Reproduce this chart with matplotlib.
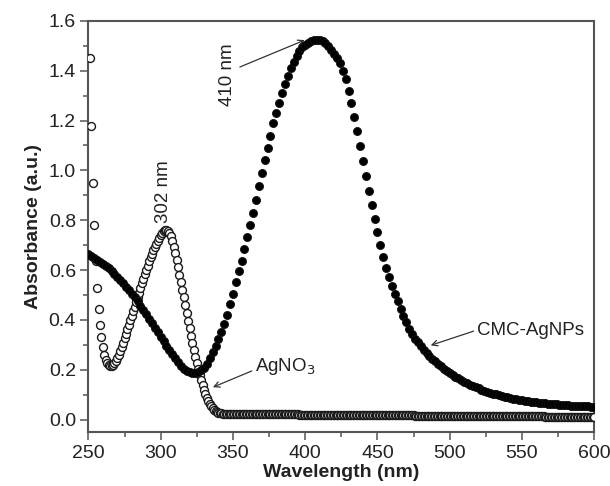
import numpy as np
import matplotlib
matplotlib.use("Agg")
import matplotlib.pyplot as plt
from matplotlib.ticker import MultipleLocator

# ---- data ----
# CMC-AgNPs, 2 nm steps from 250 to 600 nm
wl_cmc = np.arange(250, 601, 2)
abs_cmc = [
    0.665, 0.658, 0.650, 0.642, 0.634, 0.626, 0.617, 0.607, 0.597, 0.586,
    0.574, 0.561, 0.548, 0.534, 0.520, 0.505, 0.490, 0.474, 0.457, 0.440,
    0.423, 0.405, 0.387, 0.369, 0.351, 0.333, 0.315, 0.297, 0.279, 0.262,
    0.246, 0.231, 0.217, 0.205, 0.196, 0.190, 0.187, 0.188, 0.192, 0.198,
    0.207, 0.225, 0.248, 0.272, 0.296, 0.322, 0.350, 0.382, 0.420, 0.462,
    0.506, 0.552, 0.597, 0.638, 0.684, 0.731, 0.780, 0.831, 0.883, 0.937,
    0.990, 1.040, 1.090, 1.140, 1.190, 1.230, 1.270, 1.310, 1.345, 1.380,
    1.410, 1.435, 1.460, 1.480, 1.495, 1.505, 1.513, 1.518, 1.522, 1.524,
    1.524, 1.520, 1.513, 1.500, 1.485, 1.468, 1.452, 1.430, 1.400, 1.365,
    1.320, 1.270, 1.215, 1.157, 1.097, 1.037, 0.977, 0.917, 0.860, 0.805,
    0.752, 0.700, 0.652, 0.610, 0.572, 0.538, 0.505, 0.475, 0.445, 0.415,
    0.390, 0.365, 0.345, 0.325, 0.310, 0.295, 0.280, 0.268, 0.256, 0.245,
    0.234, 0.224, 0.214, 0.205, 0.196, 0.188, 0.180, 0.172, 0.165, 0.158,
    0.152, 0.146, 0.140, 0.135, 0.130, 0.125, 0.120, 0.116, 0.112, 0.108,
    0.104, 0.101, 0.098, 0.095, 0.092, 0.089, 0.087, 0.084, 0.082, 0.080,
    0.078, 0.076, 0.074, 0.072, 0.071, 0.069, 0.068, 0.066, 0.065, 0.064,
    0.063, 0.062, 0.061, 0.060, 0.059, 0.058, 0.057, 0.056, 0.056, 0.055,
    0.054, 0.054, 0.053, 0.053, 0.052, 0.052,
]

# AgNO3: 1 nm steps from 251 to 600 nm
wl_ag = np.arange(251, 601, 1)
abs_ag = [
    # 251 .. 345
    1.450, 1.180, 0.950, 0.780, 0.635, 0.530, 0.445, 0.380, 0.330, 0.290,
    0.260, 0.240, 0.226, 0.218, 0.214, 0.215, 0.219, 0.226, 0.235, 0.246,
    0.260, 0.275, 0.291, 0.308, 0.326, 0.344, 0.362, 0.380, 0.398, 0.416,
    0.434, 0.452, 0.471, 0.490, 0.509, 0.528, 0.547, 0.565, 0.583, 0.601,
    0.618, 0.635, 0.651, 0.666, 0.680, 0.693, 0.706, 0.718, 0.729, 0.739,
    0.748, 0.755, 0.760, 0.762, 0.758, 0.750, 0.735, 0.715, 0.692, 0.667,
    0.640, 0.612, 0.582, 0.552, 0.521, 0.490, 0.459, 0.428, 0.397, 0.367,
    0.337, 0.308, 0.280, 0.253, 0.227, 0.203, 0.180, 0.158, 0.138, 0.120,
    0.103, 0.088, 0.075, 0.063, 0.053, 0.045, 0.039, 0.034, 0.031, 0.028,
    0.026, 0.025, 0.024, 0.024, 0.023,
    # 346 .. 600
    0.023, 0.023, 0.023, 0.023, 0.023, 0.023, 0.023, 0.023, 0.023, 0.023,
    0.022, 0.022, 0.022, 0.022, 0.022, 0.022, 0.022, 0.022, 0.022, 0.022,
    0.022, 0.022, 0.022, 0.022, 0.022, 0.022, 0.022, 0.022, 0.022, 0.022,
    0.021, 0.021, 0.021, 0.021, 0.021, 0.021, 0.021, 0.022, 0.023, 0.022,
    0.021, 0.021, 0.021, 0.021, 0.021, 0.021, 0.021, 0.021, 0.021, 0.021,
    0.020, 0.020, 0.020, 0.020, 0.020, 0.020, 0.020, 0.020, 0.020, 0.020,
    0.020, 0.020, 0.020, 0.020, 0.020, 0.020, 0.020, 0.020, 0.020, 0.020,
    0.019, 0.019, 0.019, 0.019, 0.019, 0.019, 0.019, 0.019, 0.019, 0.019,
    0.019, 0.019, 0.019, 0.019, 0.019, 0.019, 0.019, 0.019, 0.019, 0.019,
    0.018, 0.018, 0.018, 0.018, 0.018, 0.018, 0.018, 0.018, 0.018, 0.018,
    0.018, 0.018, 0.018, 0.018, 0.018, 0.018, 0.018, 0.018, 0.018, 0.018,
    0.017, 0.017, 0.017, 0.017, 0.017, 0.017, 0.017, 0.017, 0.017, 0.017,
    0.017, 0.017, 0.017, 0.017, 0.017, 0.017, 0.017, 0.017, 0.017, 0.017,
    0.016, 0.016, 0.016, 0.016, 0.016, 0.016, 0.016, 0.016, 0.016, 0.016,
    0.016, 0.016, 0.016, 0.016, 0.016, 0.016, 0.016, 0.016, 0.016, 0.016,
    0.015, 0.015, 0.015, 0.015, 0.015, 0.015, 0.015, 0.015, 0.015, 0.015,
    0.015, 0.015, 0.015, 0.015, 0.015, 0.015, 0.015, 0.015, 0.015, 0.015,
    0.014, 0.014, 0.014, 0.014, 0.014, 0.014, 0.014, 0.014, 0.014, 0.014,
    0.014, 0.014, 0.014, 0.014, 0.014, 0.014, 0.014, 0.014, 0.014, 0.014,
    0.013, 0.013, 0.013, 0.013, 0.013, 0.013, 0.013, 0.013, 0.013, 0.013,
    0.013, 0.013, 0.013, 0.013, 0.013, 0.013, 0.013, 0.013, 0.013, 0.013,
    0.013, 0.013, 0.013, 0.013, 0.013, 0.013, 0.013, 0.013, 0.013, 0.013,
    0.012, 0.012, 0.012, 0.012, 0.012, 0.012, 0.012, 0.012, 0.012, 0.012,
    0.012, 0.012, 0.012, 0.012, 0.012, 0.012, 0.012, 0.012, 0.012, 0.012,
    0.012, 0.012, 0.012, 0.012, 0.012, 0.012, 0.012, 0.012, 0.012, 0.012,
    0.012, 0.012, 0.012, 0.012, 0.012,
]

x_ticks = [250, 300, 350, 400, 450, 500, 550, 600]
y_ticks = [0.0, 0.2, 0.4, 0.6, 0.8, 1.0, 1.2, 1.4, 1.6]

plt.rcParams['font.family'] = ['Liberation Sans', 'DejaVu Sans']
FS = 14
FS_ANN = 13.5
spine_col = '#555555'

fig = plt.figure(figsize=(6.10, 4.86), dpi=100)
ax = fig.add_axes([0.145, 0.111, 0.829, 0.846])

ax.plot(wl_ag, abs_ag, 'o', ms=5.7, mfc='white', mec='#1a1a1a', mew=1.0, zorder=3)
ax.plot(wl_cmc, abs_cmc, 'o', ms=5.8, mfc='black', mec='#111111', mew=0.6, zorder=4)

ax.set_xlim(250, 600)
ax.set_ylim(-0.05, 1.6)
ax.set_xticks(x_ticks)
ax.set_yticks(y_ticks)
ax.set_xticklabels([str(v) for v in x_ticks])
ax.set_yticklabels([f"{v:.1f}" for v in y_ticks])
ax.xaxis.set_minor_locator(MultipleLocator(25))
ax.yaxis.set_minor_locator(MultipleLocator(0.1))
ax.tick_params(which='major', direction='out', length=6, width=1.1, color=spine_col,
               labelsize=FS, labelcolor='#222222', top=False, right=False, pad=3)
ax.tick_params(which='minor', direction='out', length=3.5, width=1.1, color=spine_col,
               top=False, right=False)
for s in ax.spines.values():
    s.set_color(spine_col)
    s.set_linewidth(1.5)

ax.set_xlabel('Wavelength (nm)', fontsize=FS, fontweight='bold', labelpad=2, color='#222222')
ax.set_ylabel('Absorbance (a.u.)', fontsize=FS, fontweight='bold', labelpad=5, color='#222222')

arrow = dict(arrowstyle='->', color='#333333', lw=0.9, shrinkA=0, shrinkB=0)

ax.text(346, 1.383, '410 nm', rotation=90, ha='center', va='center', fontsize=FS_ANN, color='#222222')
ax.annotate('', xy=(399.7, 1.523), xytext=(354.8, 1.415), arrowprops=arrow)

ax.text(302, 0.915, '302 nm', rotation=90, ha='center', va='center', fontsize=FS_ANN, color='#222222')

ax.text(365.2, 0.214, 'AgNO$_3$', ha='left', va='center', fontsize=FS_ANN, color='#222222')
ax.annotate('', xy=(336.1, 0.13), xytext=(363.0, 0.195), arrowprops=arrow)

ax.text(518.6, 0.359, 'CMC-AgNPs', ha='left', va='center', fontsize=FS_ANN, color='#222222')
ax.annotate('', xy=(486.9, 0.298), xytext=(516.6, 0.355), arrowprops=arrow)

fig.savefig('out.png', dpi=100)
